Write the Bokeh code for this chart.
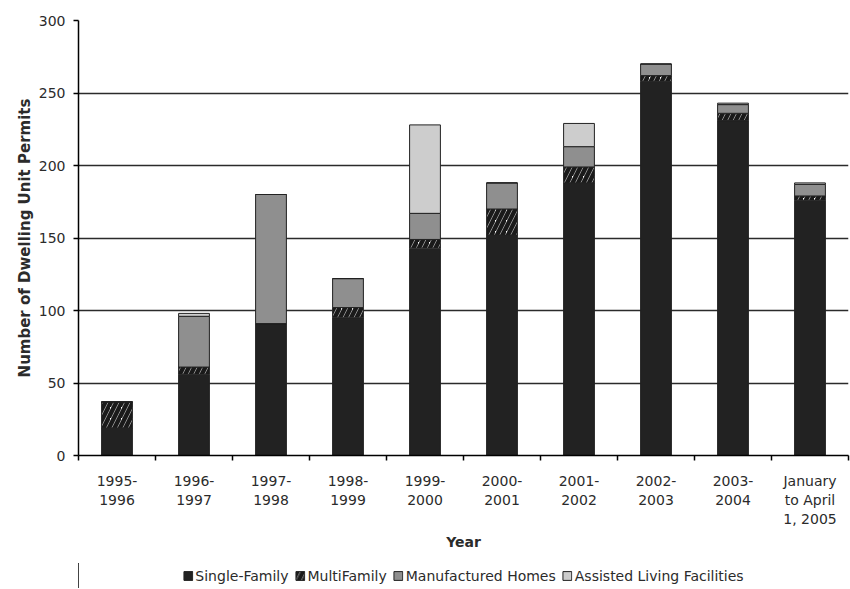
import numpy as np
from bokeh.plotting import figure
from bokeh.layouts import column
from bokeh.models import (Range1d, FixedTicker, Legend, LegendItem,
                          ColumnDataSource, Grid)
from bokeh.transform import stack
from bokeh.embed import file_html
from bokeh.resources import INLINE

# ---- data -------------------------------------------------------------
categories = ["1995-1996", "1996-1997", "1997-1998", "1998-1999", "1999-2000",
              "2000-2001", "2001-2002", "2002-2003", "2003-2004",
              "January to April 1, 2005"]
tick_labels = ["1995-\n1996", "1996-\n1997", "1997-\n1998", "1998-\n1999",
               "1999-\n2000", "2000-\n2001", "2001-\n2002", "2002-\n2003",
               "2003-\n2004", "January\nto April\n1, 2005"]
single_family = [19, 56, 91, 95, 143, 152, 188, 258, 231, 176]
multi_family = [18, 5, 0, 7, 6, 18, 11, 4, 5, 3]
manufactured = [0, 35, 89, 20, 18, 18, 14, 8, 6, 8]
assisted = [0, 2, 0, 0, 61, 0, 16, 0, 1, 1]
series_names = ["Single-Family", "MultiFamily", "Manufactured Homes",
                "Assisted Living Facilities"]
y_ticks = [0, 50, 100, 150, 200, 250, 300]

# ---- build ------------------------------------------------------------
idx = np.arange(len(categories))
src = ColumnDataSource(dict(
    x=idx + 0.5,
    sf=single_family, mf=multi_family, mh=manufactured, al=assisted,
))

TXT = "#2b2b2b"
FONT = "DejaVu Sans"

p = figure(frame_width=770, frame_height=435,
           x_range=Range1d(0, len(categories)), y_range=Range1d(0, 300),
           output_backend="svg", toolbar_location=None,
           min_border_left=78, min_border_right=2, min_border_top=20,
           min_border_bottom=108)
p.outline_line_color = None
p.background_fill_color = "white"

cols = ["sf", "mf", "mh", "al"]
styles = [
    dict(fill_color="#222222"),
    dict(fill_color="white", hatch_pattern="/", hatch_color="#1a1a1a",
         hatch_scale=11, hatch_weight=4.5),
    dict(fill_color="#8f8f8f"),
    dict(fill_color="#cdcdcd"),
]
for i, (c, st) in enumerate(zip(cols, styles)):
    p.vbar(x="x", width=0.4, bottom=stack(*cols[:i]), top=stack(*cols[:i + 1]),
           source=src, line_color="#222222", line_width=1, **st)

# axes
xa = p.xaxis[0]
xa.ticker = FixedTicker(ticks=list(idx + 0.5), minor_ticks=list(range(len(categories) + 1)))
xa.major_label_overrides = {float(t): lab for t, lab in zip(idx + 0.5, tick_labels)}
xa.major_tick_line_color = None
xa.major_tick_out = 0
xa.minor_tick_out = 5
xa.minor_tick_in = 0
xa.minor_tick_line_color = "black"
xa.minor_tick_line_width = 1.5
xa.axis_line_color = "black"
xa.axis_line_width = 1.5
xa.major_label_standoff = 12
xa.major_label_text_font = FONT
xa.major_label_text_font_size = "14px"
xa.major_label_text_color = TXT
xa.axis_label = "Year"
xa.axis_label_text_font = FONT
xa.axis_label_text_font_size = "14px"
xa.axis_label_text_font_style = "bold"
xa.axis_label_text_color = TXT
xa.axis_label_standoff = 4

ya = p.yaxis[0]
ya.ticker = FixedTicker(ticks=y_ticks)
ya.major_tick_out = 5
ya.major_tick_in = 0
ya.major_tick_line_width = 1.5
ya.minor_tick_line_color = None
ya.axis_line_color = "black"
ya.axis_line_width = 1.5
ya.major_label_standoff = 8
ya.major_label_text_font = FONT
ya.major_label_text_font_size = "14px"
ya.major_label_text_color = TXT
ya.axis_label = "Number of Dwelling Unit Permits"
ya.axis_label_text_font = FONT
ya.axis_label_text_font_size = "15px"
ya.axis_label_text_font_style = "bold"
ya.axis_label_text_color = TXT
ya.axis_label_standoff = 2

p.xgrid.grid_line_color = None
p.ygrid.ticker = FixedTicker(ticks=y_ticks[1:-1])
p.ygrid.grid_line_color = "#2b2b2b"
p.ygrid.grid_line_width = 1.5
top_grid = Grid(dimension=1, ticker=FixedTicker(ticks=y_ticks[-1:]),
                grid_line_color="#9a9a9a", grid_line_width=1.5)
p.add_layout(top_grid)

# ---- legend strip (separate small figure under the chart) ---------------
# its x range lies away from the data, so only the legend swatches show
leg_fig = figure(width=850, height=25, x_range=Range1d(1000, 1001), y_range=Range1d(0, 1),
                 x_axis_type=None, y_axis_type=None,
                 output_backend="svg", toolbar_location=None,
                 min_border_left=78, min_border_right=2,
                 min_border_top=0, min_border_bottom=0)
leg_fig.outline_line_color = None
leg_fig.xgrid.visible = False
leg_fig.ygrid.visible = False
swatches = []
for c, st in zip(cols, styles):
    swatches.append(leg_fig.vbar(x="x", top=c, width=0.4, source=src,
                                 line_color="#222222", line_width=1, **st))

legend = Legend(items=[LegendItem(label=n, renderers=[r]) for n, r in zip(series_names, swatches)],
                orientation="horizontal", location="center",
                label_text_font=FONT, label_text_font_size="14px",
                label_text_color=TXT, glyph_width=11, glyph_height=11,
                label_standoff=2, spacing=6, padding=0, margin=0,
                border_line_color=None, background_fill_alpha=0)
leg_fig.add_layout(legend, "center")

layout = column(p, leg_fig, spacing=0)
open("out.html", "w").write(file_html(layout, INLINE))
